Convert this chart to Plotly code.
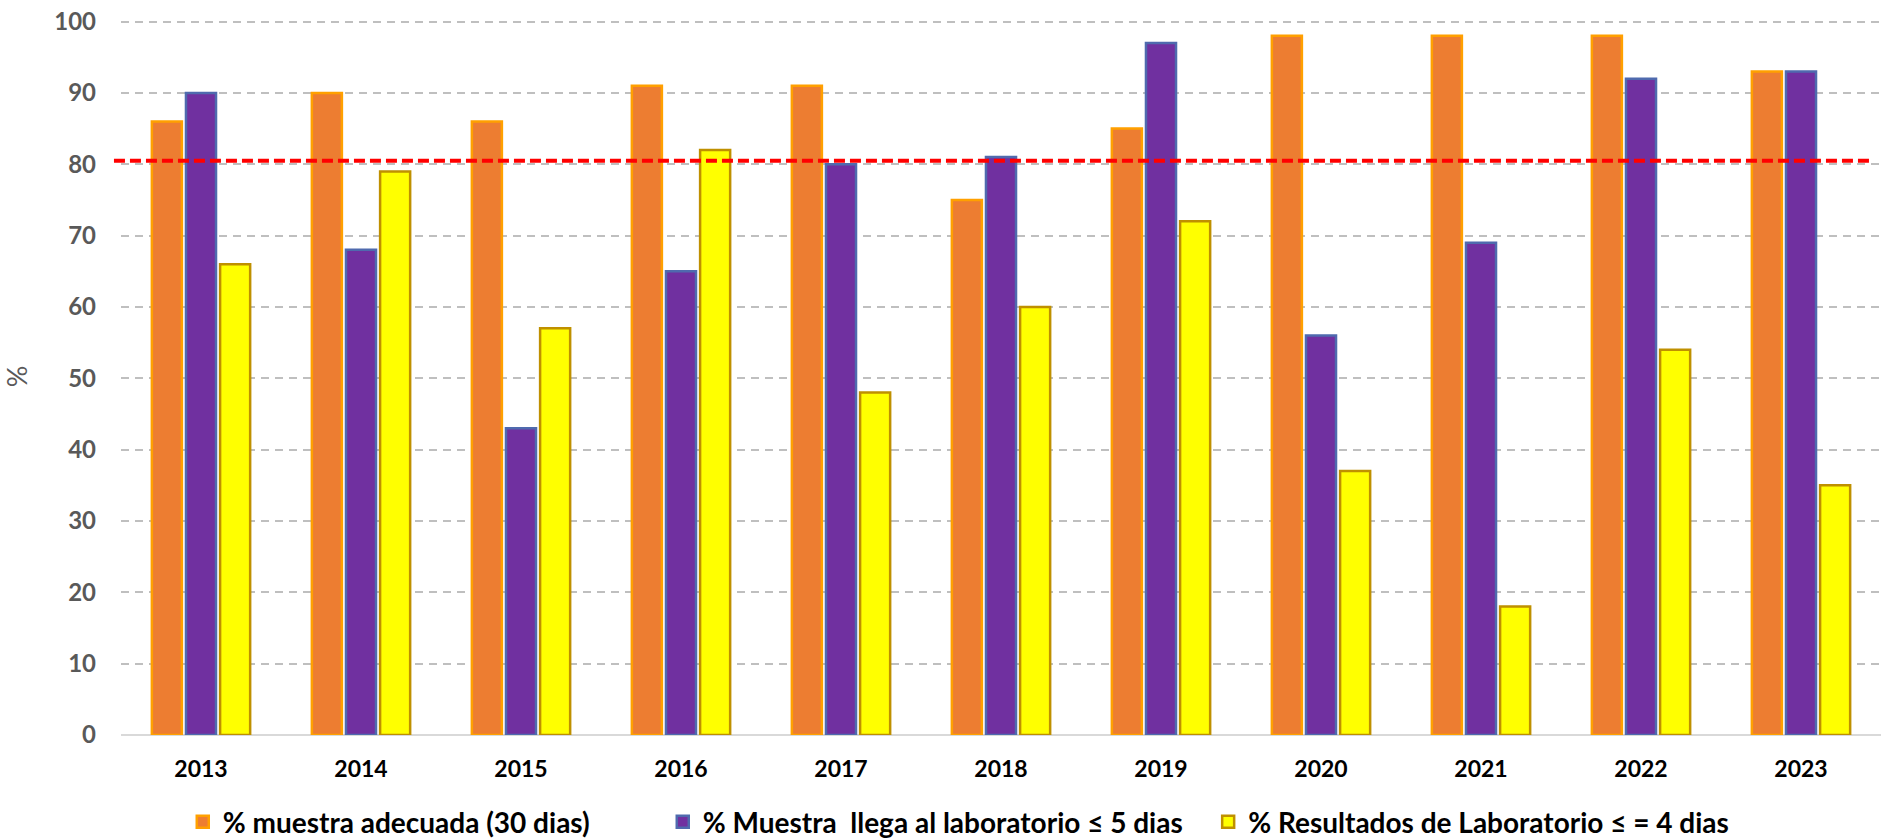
import plotly.graph_objects as go

years = ["2013", "2014", "2015", "2016", "2017", "2018", "2019", "2020", "2021", "2022", "2023"]
muestra_adecuada = [86, 90, 86, 91, 91, 75, 85, 98, 98, 98, 93]
muestra_llega = [90, 68, 43, 65, 80, 81, 97, 56, 69, 92, 93]
resultados_lab = [66, 79, 57, 82, 48, 60, 72, 37, 18, 54, 35]
meta = 80.5

names = ["% muestra adecuada (30 dias)",
         "% Muestra  llega al laboratorio ≤ 5 dias",
         "% Resultados de Laboratorio ≤ = 4 dias"]
pad = ["\u00a0" * 10, "\u00a0" * 3, ""]

fig = go.Figure()
fig.add_trace(go.Bar(x=years, y=muestra_adecuada, name=names[0] + pad[0],
                     marker=dict(color="#ED7D31", line=dict(color="#FFA000", width=2.5))))
fig.add_trace(go.Bar(x=years, y=muestra_llega, name=names[1] + pad[1],
                     marker=dict(color="#7030A0", line=dict(color="#4F6AAE", width=2.5))))
fig.add_trace(go.Bar(x=years, y=resultados_lab, name=names[2] + pad[2],
                     marker=dict(color="#FFFF00", line=dict(color="#BF9000", width=2.5))))

fig.add_shape(type="line", xref="paper", yref="y", x0=-0.004, x1=0.994, y0=meta, y1=meta,
              line=dict(color="#FF0000", width=4, dash="11px,5px"))

fig.update_layout(
    width=1881, height=840,
    margin=dict(l=121, r=0, t=18, b=105, autoexpand=False),
    plot_bgcolor="white", paper_bgcolor="white",
    barmode="group", bargap=0.36, bargroupgap=0.12,
    font=dict(family="Lato", size=22, color="#595959"),
    xaxis=dict(showgrid=False, showline=False, ticks="", ticklabelstandoff=18, automargin=False,
               tickfont=dict(size=23, color="#000000", weight="bold")),
    yaxis=dict(range=[0, 100.5], tickvals=list(range(0, 101, 10)), showgrid=True, gridcolor="#BFBFBF",
               griddash="8px,6px", gridwidth=2, automargin=False,
               zeroline=True, zerolinecolor="#D9D9D9", zerolinewidth=2,
               tickfont=dict(size=24, color="#595959", weight="bold"), ticklabelstandoff=24,
               title=dict(text="%", font=dict(size=27, color="#595959"), standoff=24)),
    legend=dict(orientation="h", x=0.476, xanchor="center", yref="container", y=0.0214, yanchor="middle",
                font=dict(size=28, color="#000000", weight="bold"),
                traceorder="normal"),
)

fig.write_html("out.html", config={"displayModeBar": False},
               post_script="document.body.style.margin='0';")
